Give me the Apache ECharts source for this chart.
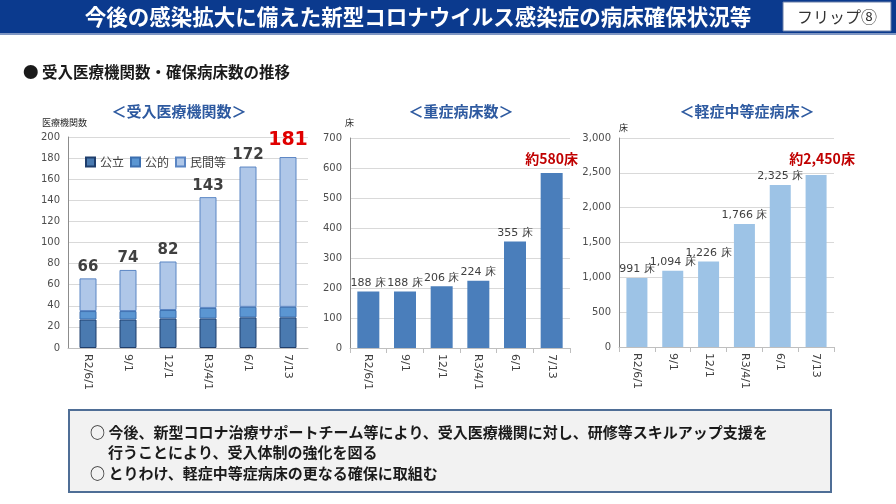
<!DOCTYPE html>
<html><head><meta charset="utf-8">
<script src="https://cdn.jsdelivr.net/npm/echarts@6/dist/echarts.min.js"></script>
<style>html,body{margin:0;padding:0;background:#fff}#c{width:896px;height:504px}</style>
</head><body><div id="c"></div>
<script>
var categories = ['R2/6/1', '9/1', '12/1', 'R3/4/1', '6/1', '7/13'];
var koritsu = [27, 27, 28, 28, 29, 29];
var koteki = [8, 8, 8, 10, 10, 10];
var minkan = [31, 39, 46, 105, 133, 142];
var institutionTotals = [66, 74, 82, 143, 172, 181];
var severeBeds = [188, 188, 206, 224, 355, 583];
var mildBeds = [991, 1094, 1226, 1766, 2325, 2470];
var severeLastLabel = '約580床';
var mildLastLabel = '約2,450床';
var leftTicks = {min: 0, max: 200, interval: 20};
var midTicks = {min: 0, max: 700, interval: 100};
var rightTicks = {min: 0, max: 3000, interval: 500};

var JP = '"Noto Sans CJK JP", "Noto Sans", sans-serif';
var NUM = 'Verdana, "DejaVu Sans", sans-serif';
var chart = echarts.init(document.getElementById('c'), null, {renderer: 'canvas'});

function xAxis(gi, showTick) {
  return {
    type: 'category', gridIndex: gi, data: categories,
    axisLine: {lineStyle: {color: '#BFBFBF'}},
    axisTick: {show: showTick, alignWithLabel: false, length: 5, lineStyle: {color: '#BFBFBF'}},
    axisLabel: {rotate: -90, interval: 0, fontSize: 11, color: '#404040', margin: 6, fontFamily: NUM}
  };
}
function yAxis(gi, t, fmt) {
  return {
    type: 'value', gridIndex: gi, min: t.min, max: t.max, interval: t.interval,
    axisLine: {show: true, lineStyle: {color: '#8C8C8C'}},
    axisTick: {show: false},
    splitLine: {lineStyle: {color: '#D9D9D9'}},
    axisLabel: {fontSize: 10, color: '#4D4D4D', margin: 8, fontFamily: NUM, formatter: fmt}
  };
}

var totalsLabelData = minkan.map(function (v, i) {
  var last = i === minkan.length - 1;
  return {
    value: v,
    label: last ? {color: '#E00000', fontSize: 19, distance: 7} : {}
  };
});

var severeData = severeBeds.map(function (v, i) {
  var last = i === severeBeds.length - 1;
  return {value: v, label: last ? {formatter: severeLastLabel, color: '#C00000', fontSize: 14, fontWeight: 'bold', distance: 7, fontFamily: JP} : {}};
});
var mildData = mildBeds.map(function (v, i) {
  var last = i === mildBeds.length - 1;
  return {value: v, label: last ? {formatter: mildLastLabel, color: '#C00000', fontSize: 14, fontWeight: 'bold', distance: 9, offset: [6, 0], fontFamily: JP} : {}};
});

var option = {
  animation: false,
  backgroundColor: '#ffffff',
  grid: [
    {left: 68, top: 137, width: 240, height: 211},
    {left: 350, top: 138, width: 220, height: 210},
    {left: 619, top: 138, width: 215, height: 209}
  ],
  xAxis: [xAxis(0, false), xAxis(1, true), xAxis(2, true)],
  yAxis: [
    yAxis(0, leftTicks),
    yAxis(1, midTicks),
    yAxis(2, rightTicks, function (v) { return v.toLocaleString('en-US'); })
  ],
  legend: {
    left: 80, top: 151, itemWidth: 9, itemHeight: 9, itemGap: 6,
    icon: 'rect',
    textStyle: {fontSize: 12, color: '#404040', fontFamily: JP},
    data: ['公立', '公的', '民間等']
  },
  series: [
    {name: '公立', type: 'bar', stack: 'inst', xAxisIndex: 0, yAxisIndex: 0, data: koritsu, barWidth: 17,
      itemStyle: {color: '#4A7AB0', borderColor: '#1F3E6C', borderWidth: 1}},
    {name: '公的', type: 'bar', stack: 'inst', xAxisIndex: 0, yAxisIndex: 0, data: koteki, barWidth: 17,
      itemStyle: {color: '#5B96D2', borderColor: '#3C6FAF', borderWidth: 1}},
    {name: '民間等', type: 'bar', stack: 'inst', xAxisIndex: 0, yAxisIndex: 0, data: totalsLabelData, barWidth: 17,
      itemStyle: {color: '#AFC7E8', borderColor: '#5B86C4', borderWidth: 1},
      label: {show: true, position: 'top', distance: 4, fontSize: 15, fontWeight: 'bold', color: '#404040',
        fontFamily: NUM,
        formatter: function (p) { return String(institutionTotals[p.dataIndex]); }}},
    {name: '重症', type: 'bar', xAxisIndex: 1, yAxisIndex: 1, data: severeData, barWidth: 22,
      itemStyle: {color: '#4A7EBB'},
      label: {show: true, position: 'top', distance: 3, fontSize: 11, color: '#404040',
        fontFamily: NUM, formatter: '{c} 床'}},
    {name: '軽症中等症', type: 'bar', xAxisIndex: 2, yAxisIndex: 2, data: mildData, barWidth: 21,
      itemStyle: {color: '#9DC3E6'},
      label: {show: true, position: 'top', distance: 3, fontSize: 11, color: '#404040',
        fontFamily: NUM,
        formatter: function (p) { return p.value.toLocaleString('en-US') + ' 床'; }}}
  ],
  graphic: [
    {type: 'rect', shape: {x: 0, y: 0, width: 896, height: 33}, style: {fill: '#0B3A8E'}, silent: true},
    {type: 'rect', shape: {x: 0, y: 33, width: 896, height: 2}, style: {fill: '#7F96C2'}, silent: true},
    {type: 'text', x: 418, y: 17, style: {text: '今後の感染拡大に備えた新型コロナウイルス感染症の病床確保状況等',
      fill: '#ffffff', font: 'bold 21.5px ' + JP, textAlign: 'center', textVerticalAlign: 'middle'}},
    {type: 'rect', shape: {x: 783, y: 2, width: 108, height: 29}, style: {fill: '#ffffff', stroke: '#6A7FA8', lineWidth: 1}},
    {type: 'text', x: 837, y: 17, style: {text: 'フリップ⑧', fill: '#333333', font: '16px ' + JP, textAlign: 'center', textVerticalAlign: 'middle'}},
    {type: 'text', x: 23, y: 72, style: {text: '● 受入医療機関数・確保病床数の推移', fill: '#1a1a1a', font: 'bold 15.5px ' + JP, textVerticalAlign: 'middle'}},
    {type: 'text', x: 179, y: 111, style: {text: '＜受入医療機関数＞', fill: '#2E5AA0', font: 'bold 15px ' + JP, textAlign: 'center', textVerticalAlign: 'middle'}},
    {type: 'text', x: 461, y: 111, style: {text: '＜重症病床数＞', fill: '#2E5AA0', font: 'bold 15px ' + JP, textAlign: 'center', textVerticalAlign: 'middle'}},
    {type: 'text', x: 747, y: 111, style: {text: '＜軽症中等症病床＞', fill: '#2E5AA0', font: 'bold 15px ' + JP, textAlign: 'center', textVerticalAlign: 'middle'}},
    {type: 'text', x: 42, y: 123, style: {text: '医療機関数', fill: '#262626', font: '9px ' + JP, textVerticalAlign: 'middle'}},
    {type: 'text', x: 345, y: 123, style: {text: '床', fill: '#262626', font: '9px ' + JP, textVerticalAlign: 'middle'}},
    {type: 'text', x: 619, y: 128, style: {text: '床', fill: '#262626', font: '9px ' + JP, textVerticalAlign: 'middle'}},
    {type: 'rect', shape: {x: 69, y: 410, width: 762, height: 82}, style: {fill: '#F2F2F2', stroke: '#4F6E96', lineWidth: 2}},
    {type: 'text', x: 90, y: 432, style: {text: '○ 今後、新型コロナ治療サポートチーム等により、受入医療機関に対し、研修等スキルアップ支援を', fill: '#1a1a1a', font: 'bold 15px ' + JP, textVerticalAlign: 'middle'}},
    {type: 'text', x: 108, y: 452, style: {text: '行うことにより、受入体制の強化を図る', fill: '#1a1a1a', font: 'bold 15px ' + JP, textVerticalAlign: 'middle'}},
    {type: 'text', x: 90, y: 473, style: {text: '○ とりわけ、軽症中等症病床の更なる確保に取組む', fill: '#1a1a1a', font: 'bold 15px ' + JP, textVerticalAlign: 'middle'}}
  ]
};
chart.setOption(option);
</script></body></html>
